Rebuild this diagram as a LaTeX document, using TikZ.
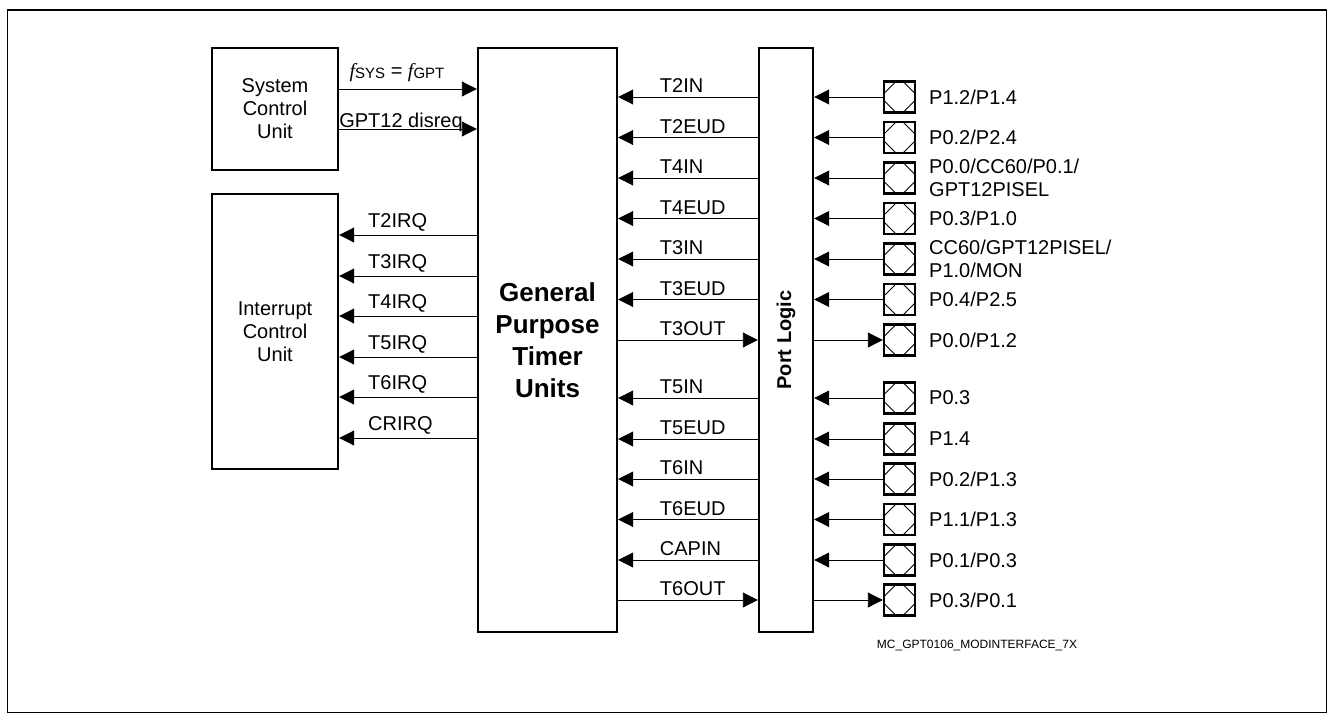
\documentclass[tikz,border=0pt]{standalone}
\usepackage{fontspec}
\setmainfont{Liberation Sans}
\newfontfamily\serifit{Liberation Serif}[ItalicFont={* Italic}]
\usetikzlibrary{arrows.meta}
\begin{document}
\begin{tikzpicture}[x=1pt,y=-1pt,
  every node/.style={font=\fontsize{20}{23}\selectfont},
  blk/.style={draw, line width=2.4pt, inner sep=0pt, align=center},
  sig/.style={line width=0.9pt, -{Triangle[length=15pt,width=15pt]}},
  lbl/.style={anchor=south west, inner sep=0pt},
  padbox/.style={draw, line width=2.4pt, minimum size=31pt, inner sep=0pt,
    path picture={
      \def\bb{path picture bounding box}
      \draw[line width=0.8pt] ([yshift=-12pt]\bb.north west) -- ([xshift=12pt]\bb.north west);
      \draw[line width=0.8pt] ([yshift=-12pt]\bb.north east) -- ([xshift=-12pt]\bb.north east);
      \draw[line width=0.8pt] ([yshift=12pt]\bb.south west) -- ([xshift=12pt]\bb.south west);
      \draw[line width=0.8pt] ([yshift=12pt]\bb.south east) -- ([xshift=-12pt]\bb.south east);
    }},
  padlbl/.style={anchor=west, align=left, inner sep=0pt}]
\useasboundingbox (0,0) rectangle (1332,720);
\draw[line width=1.4pt] (7.5,10) rectangle (1326.5,712.5);

% blocks
\node[blk, minimum width=126pt, minimum height=122pt] (scu) at (275,109) {System\\Control\\Unit};
\node[blk, minimum width=126pt, minimum height=275pt] (icu) at (275,331.5) {Interrupt\\Control\\Unit};
\node[blk, minimum width=139pt, minimum height=584pt, font=\fontsize{26}{32}\selectfont\bfseries] (gpt) at (547.5,340) {General\\Purpose\\Timer\\Units};
\node[blk, minimum width=54pt, minimum height=584pt] (port) at (786,340) {};
\node[rotate=90, font=\fontsize{20}{24}\selectfont\bfseries] (plt) at (port.center) {Port Logic};

% SCU -> GPT
\coordinate (s1) at (0,89);
\coordinate (s2) at (0,129);
\draw[sig] (scu.east|-s1) -- (gpt.west|-s1);
\draw[sig] (scu.east|-s2) -- (gpt.west|-s2);
\node[anchor=base, inner sep=0pt] (lf) at (397,77) {{\serifit\itshape f}\raisebox{-1.5pt}{\fontsize{15}{15}\selectfont SYS} = {\serifit\itshape f}\raisebox{-1.5pt}{\fontsize{15}{15}\selectfont GPT}};
\node[anchor=base, inner sep=0pt] (ld) at (401,127) {GPT12 disreq};

% GPT -> ICU
\foreach \y/\t [count=\i] in {235/T2IRQ,276/T3IRQ,316/T4IRQ,357/T5IRQ,397/T6IRQ,438/CRIRQ}{
  \coordinate (q\i) at (0,\y);
  \draw[sig] (gpt.west|-q\i) -- (icu.east|-q\i);
  \node[lbl] (ql\i) at (368,\y-4) {\t};
}

% pads
\foreach \y/\t [count=\i] in {
  97/{P1.2/P1.4},
  137.5/{P0.2/P2.4},
  178/{P0.0/CC60/P0.1/\\GPT12PISEL},
  218.5/{P0.3/P1.0},
  259/{CC60/GPT12PISEL/\\P1.0/MON},
  299.5/{P0.4/P2.5},
  340/{P0.0/P1.2},
  398/{P0.3},
  439/{P1.4},
  479/{P0.2/P1.3},
  519.5/{P1.1/P1.3},
  560/{P0.1/P0.3},
  600/{P0.3/P0.1}}{
  \node[padbox] (pad\i) at (899.5,\y) {};
  \node[padlbl] (pl\i) at (929,\y) {\t};
}

% GPT <-> Port, Port <-> pads
\foreach \i/\t in {1/T2IN,2/T2EUD,3/T4IN,4/T4EUD,5/T3IN,6/T3EUD,8/T5IN,9/T5EUD,10/T6IN,11/T6EUD,12/CAPIN}{
  \draw[sig] (port.west|-pad\i) -- (gpt.east|-pad\i);
  \draw[sig] (pad\i.west) -- (port.east|-pad\i);
  \path (gpt.east|-pad\i) ++(41.5,-4) node[lbl] {\t};
}
\foreach \i/\t in {7/T3OUT,13/T6OUT}{
  \draw[sig] (gpt.east|-pad\i) -- (port.west|-pad\i);
  \draw[sig] (port.east|-pad\i) -- (pad\i.west);
  \path (gpt.east|-pad\i) ++(41.5,-4) node[lbl] {\t};
}

\node[font=\fontsize{12}{14}\selectfont] (fn) at (977,645) {MC\_GPT0106\_MODINTERFACE\_7X};
\end{tikzpicture}
\end{document}
